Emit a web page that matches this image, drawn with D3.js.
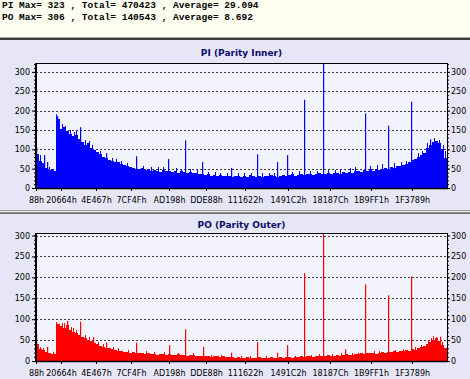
<!DOCTYPE html>
<html><head><meta charset="utf-8">
<script src="https://cdn.jsdelivr.net/npm/d3@7"></script>
<style>body{margin:0;background:#fff}svg{display:block}</style>
</head><body>
<svg id="c" width="470" height="379"></svg>
<script>
const headerLines = [
  "PI Max= 323 , Total= 470423 , Average= 29.094",
  "PO Max= 306 , Total= 140543 , Average= 8.692"
];
const xTickLabels = ["88h","20664h","4E467h","7CF4Fh","AD198h","DDE88h","111622h","1491C2h","18187Ch","1B9FF1h","1F3789h"];
const xTickBins = [0, 8.33, 20, 31.67, 44.33, 56.67, 69.67, 84, 98, 111.67, 125.33];
const yTicks = [0, 50, 100, 150, 200, 250, 300];
const binCount = 137;

const piValues = [88,70,64,52,47,50,44,178,152,158,148,140,134,138,126,120,112,116,104,98,
  92,88,80,78,72,70,66,68,62,60,58,55,52,50,48,51,46,49,44,47,
  45,42,46,43,45,41,44,40,43,42,39,41,38,40,37,35,33,36,32,34,
  31,33,30,32,31,29,32,30,28,31,29,33,30,28,31,29,32,30,33,31,
  29,32,34,31,33,35,32,34,36,33,35,37,34,36,38,35,37,39,36,38,
  40,37,41,39,42,40,43,45,42,46,44,48,45,50,47,49,52,50,54,51,
  56,58,60,63,66,72,76,80,84,90,104,112,118,122,115,100,78];
const piSpikes = [[0,105],[2.67,85],[3.67,67],[6.67,190],[7,185],[14.67,157],[23.33,90],[33.33,82],[44,75],
  [49.67,123],[55.33,67],[65,52],[73.67,87],[80.33,67],[83.67,85],[89.33,228],[95.83,323],
  [109.67,193],[117.33,161],[125,223],[131.33,126]];
const piDetail = [[1.3,85],[4.3,55],[8.7,165],[9.7,160],[11.3,150],[12.7,145],[13.3,150],[16.3,125],[17.7,122],
  [18.7,112],[21.3,95],[25.3,78],[26.7,75],[28.3,70],[30.3,65],[35.7,58],[38.3,55],[40.7,55],[42.3,54],
  [46.7,52],[48.3,50],[51.3,48],[53.7,46],[57.3,42],[59.7,42],[61.3,40],[63.7,38],[67.3,38],[69.3,40],
  [71.7,39],[75.3,38],[77.7,40],[79.3,39],[85.3,42],[87.7,43],[91.3,44],[93.7,45],[97.3,46],[99.7,47],
  [101.3,48],[104.7,52],[106.3,54],[111.3,58],[113.7,60],[115.3,62],[119.3,64],[121.7,68],[123.3,70],
  [127.3,90],[128.7,95],[130.3,115],[132.7,128],[134.3,124],[135.7,110],[136.3,95]];

const poValues = [40,28,26,22,18,17,16,88,84,80,86,74,70,66,62,58,54,50,47,44,
  40,37,34,32,30,28,27,25,24,22,21,20,22,19,18,20,17,18,16,17,
  15,16,17,15,16,14,15,16,14,15,13,14,15,13,12,13,11,12,10,11,
  12,10,11,9,10,9,8,9,7,8,9,7,8,7,9,8,7,8,9,7,
  8,9,8,10,9,8,10,9,11,10,12,11,10,12,13,11,12,14,12,13,
  15,13,14,16,15,14,17,16,18,17,19,18,20,17,19,21,20,22,21,23,
  22,24,23,26,25,28,27,30,33,36,40,45,50,54,48,38,30];
const poSpikes = [[0,67],[3.67,34],[5.67,22],[6.67,93],[10.33,96],[14.67,94],[19,57],[23.33,44],[33.33,44],
  [44.33,38],[49.67,76],[55.67,34],[65,20],[73.67,45],[80.33,20],[83.67,38],[89.33,210],[95.83,306],
  [103,28],[107.33,20],[109.67,183],[117.33,157],[125,202],[134.67,58]];
const poDetail = [[1.3,33],[2.3,30],[8.7,92],[9.3,90],[11.7,82],[12.3,78],[13.3,74],[16.3,62],[17.7,57],
  [20.7,46],[22.3,40],[25.7,33],[27.3,30],[30.7,26],[36.7,23],[39.3,22],[42.7,21],[47.3,20],[52.3,18],
  [58.3,15],[61.7,14],[68.3,12],[71.3,12],[76.7,11],[86.3,13],[91.7,15],[94.3,16],[98.7,17],[101.7,18],
  [105.3,20],[112.7,24],[114.3,25],[119.7,27],[122.3,29],[126.3,33],[128.3,38],[130.7,50],[131.7,55],
  [132.3,60],[133.3,58],[135.3,45]];

const panels = [
  {title:"PI (Parity Inner)", values:piValues, spikes:piSpikes, detail:piDetail, max:323, color:"#0000ff",
   pTop:40, pBot:210, titleY:56, plotTop:63, plotBot:188, labY:203},
  {title:"PO (Parity Outer)", values:poValues, spikes:poSpikes, detail:poDetail, max:306, color:"#ff0000",
   pTop:214, pBot:379, titleY:228, plotTop:233, plotBot:361, labY:376}
];

const svg = d3.select("#c");
const L = 36, R = 447;

// header
svg.append("rect").attr("x",0).attr("y",0).attr("width",470).attr("height",37).attr("fill","#fffff2");
headerLines.forEach((t,i)=>{
  svg.append("text").attr("x",2).attr("y",8+i*11.5).text(t)
    .attr("font-family","'Liberation Mono', monospace").attr("font-size","9.5px")
    .attr("font-weight","bold").attr("fill","#000");
});
svg.append("rect").attr("x",0).attr("y",37).attr("width",470).attr("height",1).attr("fill","#a8a8a8");
svg.append("rect").attr("x",0).attr("y",38).attr("width",470).attr("height",2).attr("fill","#3c3c3c");

// separator
[["#a0a0a0",210],["#e8e8e8",211],["#909090",212],["#6c6c6c",213]].forEach(([c,y])=>{
  svg.append("rect").attr("x",0).attr("y",y).attr("width",470).attr("height",1).attr("fill",c);
});

const x = d3.scaleLinear().domain([0, binCount]).range([L, R]);

panels.forEach(p=>{
  const g = svg.append("g");
  g.append("rect").attr("x",0).attr("y",p.pTop).attr("width",470).attr("height",p.pBot-p.pTop).attr("fill","#e6e6f7");
  const y = d3.scaleLinear().domain([0, p.max]).range([p.plotBot, p.plotTop]);
  g.append("rect").attr("x",L).attr("y",p.plotTop).attr("width",R-L).attr("height",p.plotBot-p.plotTop).attr("fill","#f3f3fd");
  // grid
  g.selectAll(".grid").data(yTicks.filter(v=>v>0)).join("line")
    .attr("x1",L).attr("x2",R).attr("y1",d=>Math.round(y(d))+0.5).attr("y2",d=>Math.round(y(d))+0.5)
    .attr("stroke","#3a3a3a").attr("stroke-width",1).attr("stroke-dasharray","2,2");
  // bars
  g.selectAll(".bar").data(p.values).join("rect")
    .attr("x",(d,i)=>x(i)).attr("width",(d,i)=>x(i+1)-x(i))
    .attr("y",d=>y(d)).attr("height",d=>y(0)-y(d))
    .attr("fill",p.color).attr("shape-rendering","crispEdges");
  g.selectAll(".det").data(p.detail).join("rect")
    .attr("x",d=>Math.round(x(d[0]))).attr("width",1)
    .attr("y",d=>y(d[1])).attr("height",d=>y(0)-y(d[1]))
    .attr("fill",p.color).attr("shape-rendering","crispEdges");
  g.selectAll(".spk").data(p.spikes).join("rect")
    .attr("x",d=>Math.round(x(d[0]))).attr("width",1.2)
    .attr("y",d=>y(d[1])).attr("height",d=>y(0)-y(d[1]))
    .attr("fill",p.color);
  // frame
  g.append("line").attr("x1",L).attr("x2",R+0.5).attr("y1",p.plotTop+0.5).attr("y2",p.plotTop+0.5).attr("stroke","#000");
  g.append("line").attr("x1",R+0.5).attr("x2",R+0.5).attr("y1",p.plotTop).attr("y2",p.plotBot).attr("stroke","#000");
  // left axis
  const ax = g.append("g").attr("transform",`translate(${L},0)`)
    .call(d3.axisLeft(y).tickValues(yTicks).tickSize(4).tickPadding(2));
  ax.select(".domain").attr("stroke-width",2).attr("d",`M0,${p.plotTop}V${p.plotBot+1}`);
  ax.selectAll("text").attr("font-family","'DejaVu Sans', Verdana, sans-serif").attr("font-size","8px").attr("fill","#000");
  g.append("g").attr("transform",`translate(${L},0)`)
    .call(d3.axisLeft(y).tickValues(d3.range(0,p.max,10)).tickSize(2).tickFormat(""))
    .select(".domain").remove();
  // right axis
  const ar = g.append("g").attr("transform",`translate(${R},0)`)
    .call(d3.axisRight(y).tickValues(yTicks).tickSize(3).tickPadding(1));
  ar.select(".domain").remove();
  ar.selectAll("text").attr("font-family","'DejaVu Sans', Verdana, sans-serif").attr("font-size","8px").attr("fill","#000");
  g.append("g").attr("transform",`translate(${R},0)`)
    .call(d3.axisRight(y).tickValues(d3.range(0,p.max,10)).tickSize(2).tickFormat(""))
    .select(".domain").remove();
  // bottom axis
  const ab = g.append("g").attr("transform",`translate(0,${p.plotBot})`)
    .call(d3.axisBottom(x).tickValues(xTickBins).tickSize(3).tickFormat((d,i)=>xTickLabels[i]));
  ab.select(".domain").attr("d",`M${L},0.5H${R+1}`).attr("stroke-width",1.5);
  ab.selectAll("text").attr("font-family","'DejaVu Sans', Verdana, sans-serif").attr("font-size","8px")
    .attr("fill","#000").attr("dy",null).attr("y",p.labY-p.plotBot);
  // title
  g.append("text").attr("x",(L+R)/2).attr("y",p.titleY).attr("text-anchor","middle").text(p.title)
    .attr("font-family","'DejaVu Sans', Verdana, sans-serif").attr("font-size","9px").attr("font-weight","bold").attr("fill","#0b0b6b");
});
</script>
</body></html>
